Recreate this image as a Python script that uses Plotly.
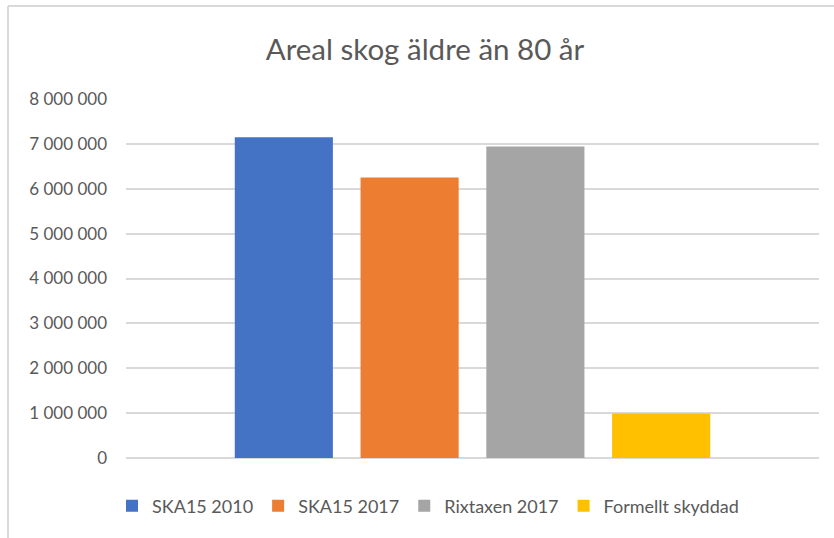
import plotly.graph_objects as go

title = "Areal skog äldre än 80 år"
category = ["Areal"]
series_names = ["SKA15 2010", "SKA15 2017", "Rixtaxen 2017", "Formellt skyddad"]
series_values = [7150000, 6250000, 6940000, 990000]
colors = ["#4472C4", "#ED7D31", "#A5A5A5", "#FFC000"]
tick_vals = [0, 1000000, 2000000, 3000000, 4000000, 5000000, 6000000, 7000000, 8000000]
tick_text = ["0", "1 000 000", "2 000 000", "3 000 000", "4 000 000",
             "5 000 000", "6 000 000", "7 000 000", "8 000 000"]

W, H = 834, 538
L, R, T, B = 126, 15, 99, 80
pw, ph = W - L - R, H - T - B

fig = go.Figure()
for name, val, col in zip(series_names, series_values, colors):
    fig.add_trace(go.Bar(x=category, y=[val], name=name, marker_color=col,
                         marker_line_width=0))

FONT = "Lato"
fig.update_layout(
    width=W, height=H,
    margin=dict(l=L, r=R, t=T, b=B),
    paper_bgcolor="white", plot_bgcolor="white",
    barmode="group", bargap=0.274, bargroupgap=0.22,
    font=dict(family=FONT, color="#595959", size=17),
    title=dict(text=title, font=dict(family=FONT, size=29.5, color="#595959"),
               x=425 / W, xref="container", xanchor="center",
               y=1 - 50 / H, yref="container", yanchor="middle"),
    showlegend=True,
    legend=dict(orientation="h", xref="container", yref="container",
                x=428 / W, xanchor="center", y=1 - 506 / H, yanchor="middle",
                font=dict(family=FONT, size=18, color="#595959"),
                traceorder="normal"),
    xaxis=dict(showticklabels=False, showgrid=False, zeroline=False,
               showline=False, ticks=""),
    yaxis=dict(range=[0, 8000000], tickvals=tick_vals, ticktext=tick_text,
               showgrid=True, gridcolor="#D9D9D9", gridwidth=1.5,
               zeroline=True, zerolinecolor="#D9D9D9", zerolinewidth=1.5,
               showline=False, ticks="", ticklabelstandoff=18,
               tickfont=dict(family=FONT, size=17, color="#595959")),
)

# chart frame (top and left edges visible)
x0 = (8 - L) / pw
y_top = (H - B - 6) / ph
fig.add_shape(type="line", xref="paper", yref="paper", x0=x0, x1=(W + 5 - L) / pw,
              y0=y_top, y1=y_top, line=dict(color="#D9D9D9", width=2))
fig.add_shape(type="line", xref="paper", yref="paper", x0=x0, x1=x0,
              y0=y_top, y1=-(B + 5) / ph, line=dict(color="#D9D9D9", width=2))

fig.write_html("out.html", config={"displayModeBar": False},
               post_script="document.body.style.margin='0px';")
